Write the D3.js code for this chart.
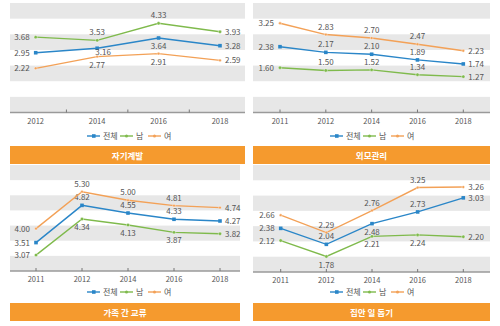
<!DOCTYPE html>
<html>
<head>
<meta charset="utf-8">
<script src="https://cdn.jsdelivr.net/npm/d3@7"></script>
<style>
  body { margin: 0; background: #fff; }
  text { font-family: "Noto Sans CJK KR", "Noto Sans", sans-serif; }
</style>
</head>
<body>
<svg id="chart" width="500" height="326"></svg>
<script>
// series names (legend)
var seriesNames = ["전체", "남", "여"];
var seriesColors = ["#2a86c8", "#7fba4c", "#f3a157"];

// 자기계발
var yearsA = ["2012", "2014", "2016", "2018"];
var totalA = [2.95, 3.16, 3.64, 3.28];
var maleA = [3.68, 3.53, 4.33, 3.93];
var femaleA = [2.22, 2.77, 2.91, 2.59];
var labPosA = [["l", "br", "b", "r"], ["l", "a", "a", "r"], ["l", "b", "b", "r"]];

// 외모관리
var yearsB = ["2011", "2012", "2014", "2016", "2018"];
var totalB = [2.38, 2.17, 2.10, 1.89, 1.74];
var maleB = [1.60, 1.50, 1.52, 1.34, 1.27];
var femaleB = [3.25, 2.83, 2.70, 2.47, 2.23];
var labPosB = [["l", "a", "a", "a", "r"], ["l", "a", "a", "a", "r"], ["l", "a", "a", "a", "r"]];

// 가족 간 교류
var yearsC = ["2011", "2012", "2014", "2016", "2018"];
var totalC = [3.51, 4.82, 4.55, 4.33, 4.27];
var maleC = [3.07, 4.34, 4.13, 3.87, 3.82];
var femaleC = [4.00, 5.30, 5.00, 4.81, 4.74];
var labPosC = [["l", "a", "a", "a", "r"], ["l", "b", "b", "b", "r"], ["l", "a", "a", "a", "r"]];

// 집안 일 돕기
var yearsD = ["2011", "2012", "2014", "2016", "2018"];
var totalD = [2.38, 2.04, 2.48, 2.73, 3.03];
var maleD = [2.12, 1.78, 2.21, 2.24, 2.20];
var femaleD = [2.66, 2.29, 2.76, 3.25, 3.26];
var labPosD = [["l", "a", "b", "a", "r"], ["l", "b", "b", "b", "r"], ["l", "a", "a", "a", "r"]];

var titles = ["자기계발", "외모관리", "가족 간 교류", "집안 일 돕기"];

var svg = d3.select("#chart");
var bandGray = "#e7e7e7";
var orange = "#f59a2e";

function drawPanel(p){
    var g = svg.append("g");

    var x = d3.scalePoint().domain(p.years).range(p.xr);
    var y = d3.scaleLinear().domain(p.yd).range([p.bottom, p.top]);

    // alternating bands
    var nb = 7, bh = (p.bottom - p.top) / nb;
    g.selectAll(".band").data(d3.range(0, nb, 2)).enter().append("rect")
        .attr("x", p.left).attr("width", p.right - p.left)
        .attr("y", d => p.top + d * bh).attr("height", bh)
        .style("fill", bandGray);

    // axis line + ticks
    g.append("line").attr("x1", p.left).attr("x2", p.right)
        .attr("y1", p.bottom).attr("y2", p.bottom)
        .style("stroke", "#9a9a9a").style("stroke-width", 1.5);
    var tickX = p.between
        ? d3.range(p.years.length - 1).map(i => (x(p.years[i]) + x(p.years[i + 1])) / 2)
        : p.years.map(d => x(d));
    g.selectAll(".tick").data(tickX).enter().append("line")
        .attr("x1", d => d).attr("x2", d => d)
        .attr("y1", p.bottom).attr("y2", p.bottom - 3)
        .style("stroke", "#777").style("stroke-width", 1);
    g.selectAll(".xlab").data(p.years).enter().append("text")
        .attr("x", d => x(d)).attr("y", p.bottom + 11)
        .attr("text-anchor", "middle").style("font-size", "7.5px").style("fill", "#555")
        .text(d => d);

    var line = d3.line().x((d, i) => x(p.years[i])).y(d => y(d));

    p.series.forEach(function(vals, s){
        g.append("path").datum(vals).attr("d", line)
            .style("fill", "none").style("stroke", seriesColors[s]).style("stroke-width", 1.4);
        var pts = g.selectAll(".pt" + s).data(vals).enter();
        if (s == 0){
            pts.append("rect").attr("x", (d, i) => x(p.years[i]) - 1.8).attr("y", d => y(d) - 1.8)
                .attr("width", 3.6).attr("height", 3.6).style("fill", seriesColors[s]);
        } else {
            pts.append("circle").attr("cx", (d, i) => x(p.years[i])).attr("cy", d => y(d))
                .attr("r", s == 1 ? 1.7 : 1.4).style("fill", seriesColors[s])
                .style("stroke", "#fff").style("stroke-width", 0.4);
        }
        g.selectAll(".lab" + s).data(vals).enter().append("text")
            .attr("x", (d, i) => {
                var pos = p.labPos[s][i], cx = x(p.years[i]);
                if (pos == "l") return cx - 6;
                if (pos == "r") return cx + 5;
                if (pos == "br") return cx + 6;
                return cx;
            })
            .attr("y", (d, i) => {
                var pos = p.labPos[s][i], cy = y(d);
                if (pos == "a") return cy - 5;
                if (pos == "b") return cy + 11;
                if (pos == "br") return cy + 6.5;
                return cy + 3;
            })
            .attr("text-anchor", (d, i) => {
                var pos = p.labPos[s][i];
                return pos == "l" ? "end" : pos == "r" ? "start" : "middle";
            })
            .style("font-size", "8px").style("fill", "#555")
            .text(d => d.toFixed(2));
    });

    // legend
    var lg = g.append("g").attr("transform", "translate(" + p.legendX + "," + p.legendY + ")");
    var offs = [0, 33, 61];
    seriesNames.forEach(function(n, s){
        var gx = offs[s];
        lg.append("line").attr("x1", gx).attr("x2", gx + 13).attr("y1", 0).attr("y2", 0)
            .style("stroke", seriesColors[s]).style("stroke-width", 1.4);
        if (s == 0){
            lg.append("rect").attr("x", gx + 5).attr("y", -1.8).attr("width", 3.6).attr("height", 3.6)
                .style("fill", seriesColors[s]);
        } else {
            lg.append("circle").attr("cx", gx + 6.5).attr("cy", 0).attr("r", 1.5).style("fill", seriesColors[s]);
        }
        lg.append("text").attr("x", gx + 16).attr("y", 3).style("font-size", "8px").style("fill", "#555").text(n);
    });

    // title bar
    g.append("rect").attr("x", p.left).attr("y", p.barY).attr("width", p.right - p.left).attr("height", 18)
        .style("fill", orange);
    g.append("text").attr("x", (p.left + p.right) / 2).attr("y", p.barY + 12.5)
        .attr("text-anchor", "middle").style("font-size", "8.5px").style("font-weight", "bold")
        .style("fill", "#fff").text(p.title);
}

drawPanel({years: yearsA, series: [totalA, maleA, femaleA], labPos: labPosA, title: titles[0],
    left: 10, right: 245, top: 3, bottom: 112.5, xr: [35.7, 220], yd: [0.15, 5.28], between: true,
    legendX: 87, legendY: 136, barY: 146});
drawPanel({years: yearsB, series: [totalB, maleB, femaleB], labPos: labPosB, title: titles[1],
    left: 253, right: 490, top: 3, bottom: 112.5, xr: [280, 463.3], yd: [-0.06, 4.0], between: false,
    legendX: 330, legendY: 136, barY: 146});
drawPanel({years: yearsC, series: [totalC, maleC, femaleC], labPos: labPosC, title: titles[2],
    left: 10, right: 240, top: 165, bottom: 271, xr: [36, 220], yd: [2.51, 6.24], between: false,
    legendX: 87, legendY: 292, barY: 303});
drawPanel({years: yearsD, series: [totalD, maleD, femaleD], labPos: labPosD, title: titles[3],
    left: 253, right: 490, top: 165, bottom: 272, xr: [280.7, 463.3], yd: [1.45, 3.73], between: false,
    legendX: 330, legendY: 292, barY: 303});
</script>
</body>
</html>
